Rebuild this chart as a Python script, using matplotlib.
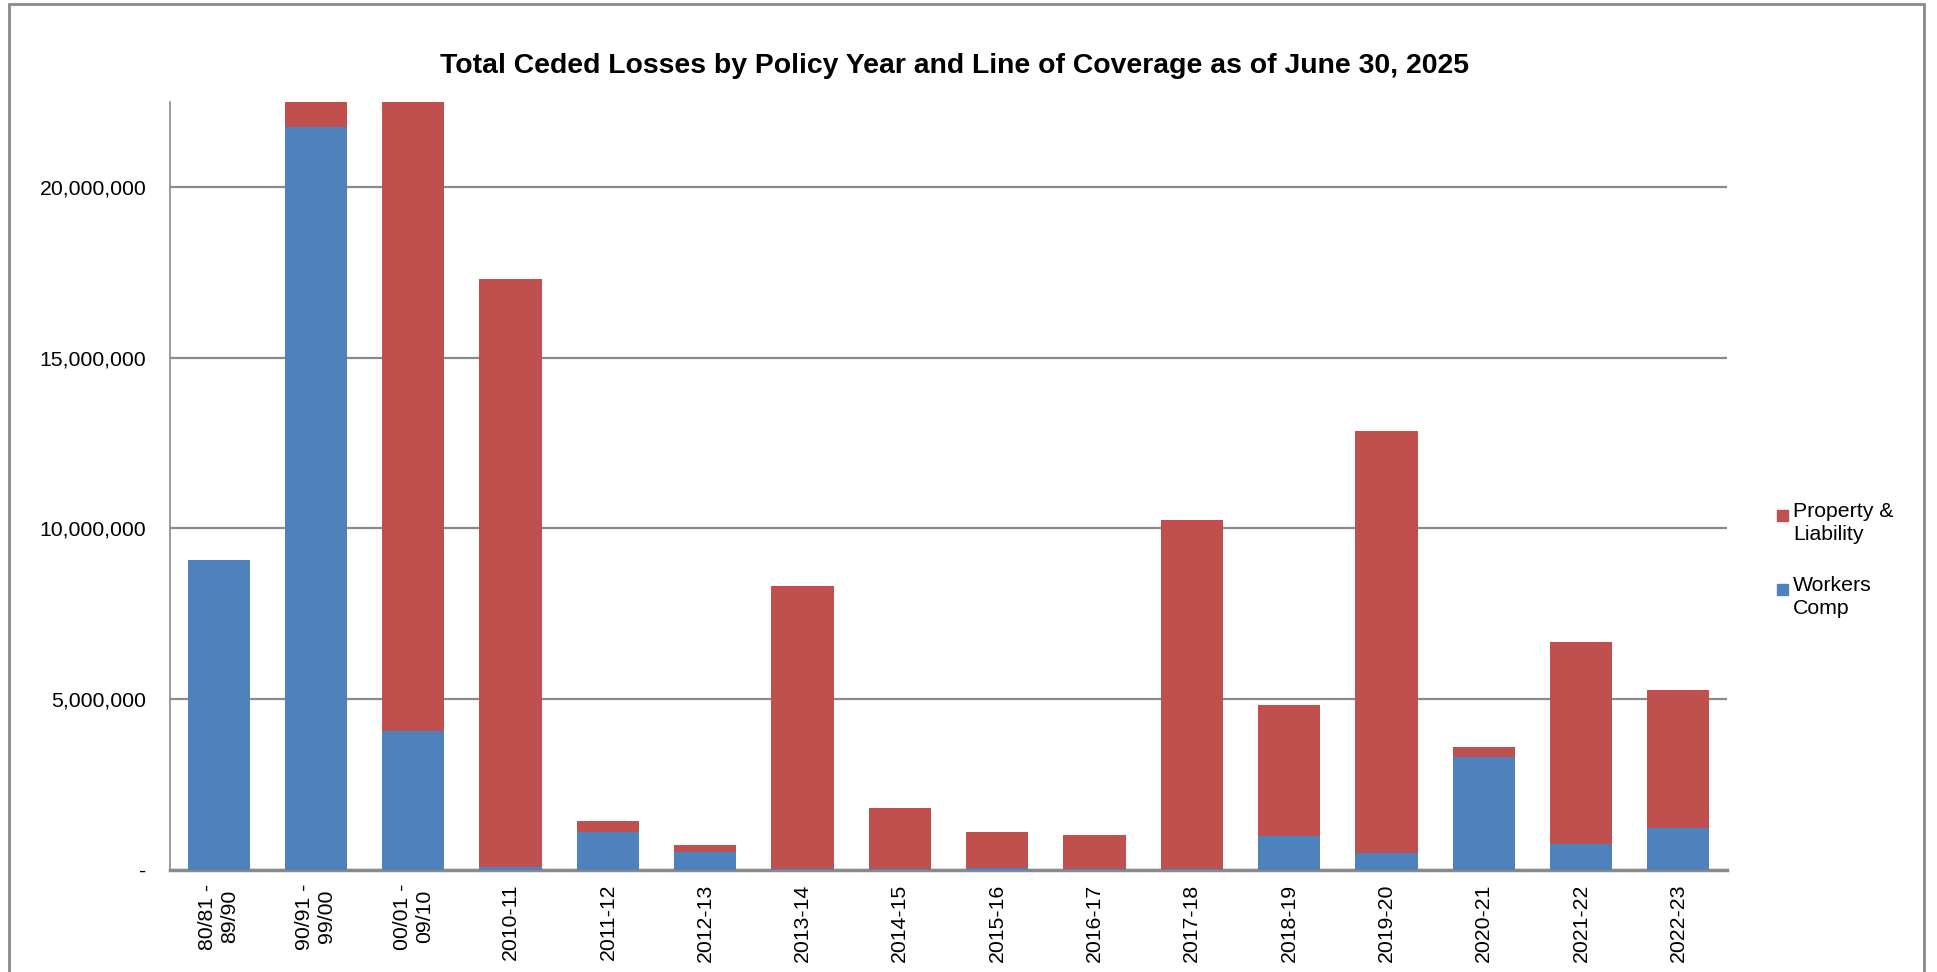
import numpy as np
import matplotlib.pyplot as plt
from matplotlib.ticker import FuncFormatter

plt.rcParams['font.family'] = ['Liberation Sans', 'DejaVu Sans']

years = ["80/81 -\n89/90", "90/91 -\n99/00", "00/01 -\n09/10", "2010-11", "2011-12",
         "2012-13", "2013-14", "2014-15", "2015-16", "2016-17", "2017-18", "2018-19",
         "2019-20", "2020-21", "2021-22", "2022-23"]

# values in dollars (bars 2 and 3 run past the top of the axis)
workers_comp = [9060000, 21780000, 4060000, 70000, 1090000, 510000, 20000, 10000,
                40000, 10000, 10000, 980000, 470000, 3300000, 760000, 1230000]
property_liability = [0, 1500000, 20000000, 17250000, 320000, 210000, 8280000, 1800000,
                      1050000, 1000000, 10240000, 3840000, 12390000, 290000, 5910000, 4020000]

blue = "#4F81BD"
red = "#C0504D"
W, H = 1937, 972

fig = plt.figure(figsize=(W / 100, H / 100), dpi=100)
ax = fig.add_axes([170 / W, 1 - 869.5 / H, (1727 - 170) / W, (869.5 - 102) / H])

x = np.arange(len(years))
wc = np.array(workers_comp)
pl = np.array(property_liability)
ax.bar(x, wc, width=0.64, color=blue, zorder=3)
ax.bar(x, pl, width=0.64, bottom=wc, color=red, zorder=3)

ax.set_xlim(-0.5, len(years) - 0.5)
ax.set_ylim(0, 22500000)
ax.set_yticks([0, 5000000, 10000000, 15000000, 20000000])
ax.yaxis.set_major_formatter(FuncFormatter(lambda v, p: "-" if v == 0 else f"{v:,.0f}"))
ax.yaxis.grid(True, color="#8a8a8a", linewidth=1.6, zorder=0)

ax.set_xticks(x)
ax.set_xticklabels(years, rotation=90, multialignment="center")
ax.tick_params(axis="x", length=0, pad=10, labelsize=15.3)
ax.tick_params(axis="y", length=0, pad=17, labelsize=15.3)

for s in ["top", "right"]:
    ax.spines[s].set_visible(False)
ax.spines["left"].set_color("#8a8a8a")
ax.spines["left"].set_linewidth(1.2)
ax.spines["bottom"].set_color("#8a8a8a")
ax.spines["bottom"].set_linewidth(2.5)

# legend drawn by hand: square lines up with the first text line
legend_items = [("Property &\nLiability", red, 506), ("Workers\nComp", blue, 580)]
for label, color, top in legend_items:
    fig.add_artist(plt.Rectangle((1777 / W, 1 - (top + 15) / H), 11 / W, 11 / H,
                                 transform=fig.transFigure, color=color))
    fig.text(1793 / W, 1 - (top - 4) / H, label, ha="left", va="top", fontsize=15.3,
             linespacing=1.25)

fig.text(954 / W, 1 - 66 / H, "Total Ceded Losses by Policy Year and Line of Coverage as of June 30, 2025",
         ha="center", va="center", fontsize=20.4, fontweight="bold")

# outer chart frame
fig.add_artist(plt.Rectangle((9 / W, -0.01), (1924 - 9) / W, 1 - 4 / H + 0.01,
                             transform=fig.transFigure, fill=False, edgecolor="#8a8a8a", linewidth=2))

fig.savefig("out.png", dpi=100)
